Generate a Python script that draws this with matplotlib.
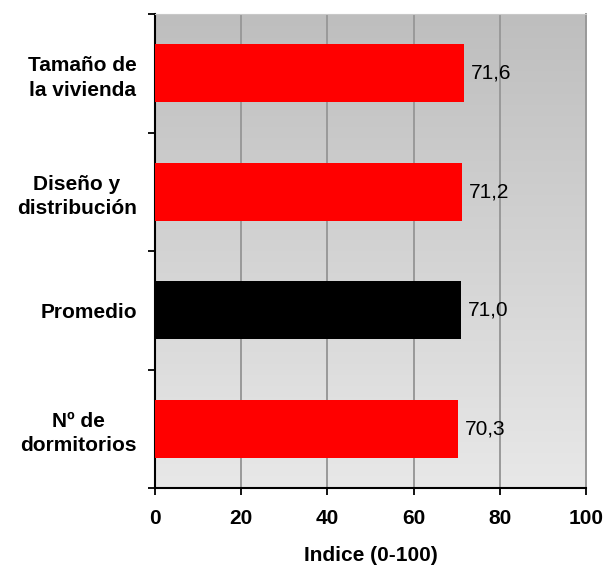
import numpy as np
import matplotlib.pyplot as plt

# datos
categorias = ['Tamaño de\nla vivienda', 'Diseño y\ndistribución', 'Promedio', 'Nº de\ndormitorios']
valores = [71.6, 71.2, 71.0, 70.3]
colores = ['#FF0000', '#FF0000', '#000000', '#FF0000']
ticks_x = [0, 20, 40, 60, 80, 100]

plt.rcParams['font.family'] = ['Liberation Sans', 'DejaVu Sans']

fig = plt.figure(figsize=(6.05, 5.65), dpi=100)
ax = fig.add_axes([155/605, 1 - 488/565, (586-155)/605, (488-14)/565])

n = len(categorias)
pos = np.arange(n)[::-1]

# fondo degradado
grad = np.linspace(0, 1, 256).reshape(-1, 1)
ax.imshow(grad, extent=[0, 100, -0.5, n - 0.5], aspect='auto', cmap=plt.matplotlib.colors.LinearSegmentedColormap.from_list('g', ['#BEBEBE', '#E8E8E8']),
          origin='upper', zorder=0)

ax.barh(pos, valores, height=0.49, color=colores, zorder=3)
for p, v in zip(pos, valores):
    ax.annotate(f'{v:.1f}'.replace('.', ','), (v, p), xytext=(5, 0), textcoords='offset points',
                va='center', ha='left', fontsize=15, zorder=4)

ax.set_xlim(0, 100)
ax.set_ylim(-0.5, n - 0.5)
ax.set_xticks(ticks_x)
ax.set_xticklabels([str(t) for t in ticks_x], fontsize=15, fontweight='bold')
ax.xaxis.grid(True, color='#999999', linewidth=1.4, zorder=1)
ax.set_axisbelow(True)

ax.set_yticks(pos)
ax.set_yticklabels(categorias, fontsize=15, fontweight='bold', multialignment='center', linespacing=1.35)
ax.tick_params(axis='y', which='major', length=0, pad=13)
ax.set_yticks(np.arange(-0.5, n, 1), minor=True)
ax.tick_params(axis='y', which='minor', length=5, width=1.3, direction='out')
ax.tick_params(axis='x', length=5, width=1.3, direction='out', pad=10)

for s in ['left', 'bottom']:
    ax.spines[s].set_linewidth(1.5)
    ax.spines[s].set_color('black')
ax.spines['top'].set_color('#C8C8C8')
ax.spines['right'].set_color('#999999')
ax.spines['right'].set_linewidth(1.4)

ax.set_xlabel('Indice (0-100)', fontsize=15, fontweight='bold', labelpad=13)

fig.savefig('out.png', dpi=100)
